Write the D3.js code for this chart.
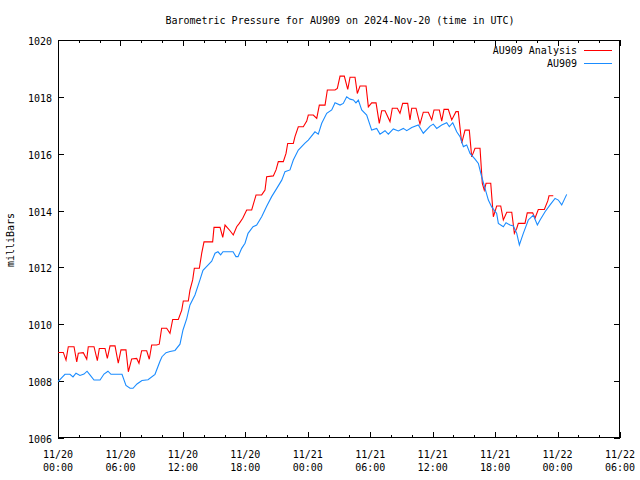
<!DOCTYPE html>
<html><head><meta charset="utf-8">
<script src="https://cdn.jsdelivr.net/npm/d3@7"></script>
<style>
body{margin:0;background:#fff;}
text{font-family:"DejaVu Sans Mono",monospace;font-size:10px;fill:#000;}
</style></head><body>
<svg id="chart" width="640" height="480"></svg>
<script>
const titleText = "Barometric Pressure for AU909 on 2024-Nov-20 (time in UTC)";
const yLabel = "milliBars";
const seriesNames = ["AU909 Analysis", "AU909"];
const seriesColors = ["#ff0000", "#1a8cff"];
const startTime = Date.UTC(2024, 10, 20, 0, 0);
const endHours = 54;
const yTicks = [1006, 1008, 1010, 1012, 1014, 1016, 1018, 1020];

// AU909 Analysis: hours since 11/20 00:00 UTC, pressure (mb)
const analysisHours = [0.03,0.51,0.77,0.99,1.54,1.80,1.95,2.43,2.76,2.91,3.46,3.78,3.97,4.52,4.74,5.00,5.48,5.79,6.05,6.53,6.76,7.08,7.56,7.78,8.04,8.52,8.77,9.00,9.48,9.73,9.96,10.44,10.76,11.02,11.56,11.89,12.04,12.52,12.68,12.94,13.10,13.58,13.81,14.03,14.86,14.99,15.57,15.83,16.05,16.53,16.84,17.17,17.42,17.75,18.13,18.61,19.03,19.57,19.89,20.05,20.69,20.95,21.17,21.65,21.91,22.07,22.61,22.77,23.09,23.57,23.90,24.05,24.53,24.86,25.11,25.66,25.88,26.62,26.84,27.10,27.51,27.84,28.06,28.54,28.76,29.02,29.60,29.82,30.14,30.56,30.87,31.10,31.42,31.90,32.12,32.60,32.86,33.12,33.60,33.82,33.99,34.40,34.78,35.10,35.58,35.91,36.13,36.64,36.87,37.09,37.50,37.83,38.24,38.46,38.79,39.11,39.52,39.75,40.07,40.55,40.77,40.96,41.13,41.58,41.83,42.15,42.54,42.79,43.12,43.60,43.85,44.08,44.23,44.87,45.09,45.61,45.83,46.15,46.73,47.06,47.18,47.59];
const analysisValues = [1009.01,1009.01,1008.74,1009.21,1009.21,1008.68,1008.98,1009.00,1008.77,1009.21,1009.21,1008.72,1009.15,1009.15,1008.80,1009.24,1009.24,1008.63,1009.10,1009.10,1008.33,1008.78,1008.80,1008.63,1009.07,1009.07,1008.77,1009.27,1009.27,1009.30,1009.86,1009.86,1009.68,1010.17,1010.17,1010.50,1010.82,1010.82,1011.20,1011.56,1011.97,1011.97,1012.50,1012.90,1012.90,1013.41,1013.41,1013.06,1013.49,1013.29,1013.14,1013.43,1013.55,1013.73,1014.02,1014.02,1014.55,1014.55,1014.72,1015.19,1015.22,1015.43,1015.72,1015.72,1016.01,1016.36,1016.36,1016.60,1016.95,1016.95,1017.15,1017.36,1017.36,1017.24,1017.71,1017.71,1018.24,1018.24,1018.30,1018.73,1018.73,1018.26,1018.69,1018.69,1018.12,1018.38,1018.38,1017.65,1017.79,1017.79,1017.07,1017.51,1017.51,1017.13,1017.60,1017.60,1017.42,1017.77,1017.77,1017.19,1017.60,1017.60,1017.04,1017.46,1017.46,1017.19,1017.54,1017.54,1017.15,1017.56,1017.56,1017.19,1017.48,1017.48,1016.37,1016.83,1016.83,1015.89,1016.19,1016.19,1014.96,1014.72,1014.96,1014.96,1013.78,1014.16,1014.16,1013.67,1013.94,1013.94,1013.20,1013.38,1013.55,1013.55,1013.92,1013.92,1013.73,1014.04,1014.04,1014.34,1014.52,1014.52];

// AU909 observed
const obsHours = [0.00,0.67,1.15,1.44,1.73,2.11,2.50,2.79,3.07,3.46,4.04,4.42,4.80,5.09,6.15,6.53,6.92,7.21,7.59,8.07,8.65,9.32,9.80,9.99,10.38,10.76,11.24,11.72,12.01,12.37,12.68,13.16,13.64,13.93,14.41,14.77,15.09,15.37,15.63,15.85,16.82,17.10,17.30,17.65,17.97,18.26,18.74,19.09,19.57,20.05,20.53,21.02,21.50,21.81,22.29,22.61,23.09,23.73,24.05,24.69,25.01,25.34,25.82,26.30,26.62,27.10,27.41,27.74,28.06,28.38,28.63,28.86,29.18,29.66,30.14,30.62,30.94,31.42,31.74,32.22,32.70,33.18,33.51,33.99,34.62,35.10,35.75,36.06,36.39,36.87,37.35,37.60,37.93,38.31,38.63,38.95,39.27,39.59,40.07,40.39,40.71,41.03,41.35,41.67,42.15,42.31,42.79,43.05,43.43,43.75,44.08,44.33,44.71,45.19,45.67,46.06,46.32,46.80,47.28,47.76,48.07,48.40,48.88];
const obsValues = [1007.98,1008.24,1008.24,1008.15,1008.28,1008.20,1008.25,1008.35,1008.22,1008.04,1008.04,1008.25,1008.35,1008.24,1008.24,1007.85,1007.75,1007.75,1007.90,1008.02,1008.05,1008.24,1008.70,1008.86,1009.00,1009.04,1009.08,1009.30,1009.80,1010.20,1010.68,1011.03,1011.56,1011.90,1012.08,1012.22,1012.50,1012.55,1012.44,1012.55,1012.55,1012.38,1012.38,1012.67,1012.85,1013.20,1013.43,1013.49,1013.78,1014.15,1014.49,1014.78,1015.07,1015.37,1015.43,1015.78,1016.13,1016.37,1016.48,1016.77,1016.69,1017.07,1017.42,1017.54,1017.79,1017.71,1017.77,1018.00,1017.92,1017.89,1017.79,1017.89,1017.54,1017.36,1016.83,1016.89,1016.69,1016.81,1016.69,1016.87,1016.80,1016.89,1016.81,1016.92,1017.01,1016.72,1016.97,1017.04,1016.89,1017.01,1017.09,1016.95,1017.09,1016.77,1016.60,1016.25,1016.31,1016.01,1015.81,1015.66,1015.19,1014.78,1014.37,1014.13,1013.90,1013.55,1013.43,1013.57,1013.49,1013.46,1013.20,1012.79,1013.20,1013.67,1013.84,1013.49,1013.67,1013.96,1014.20,1014.43,1014.37,1014.20,1014.57];

(function(){
const H = 3600000;
const mL = 58, mR = 620, mT = 40, mB = 438;
const svg = d3.select("#chart");
svg.append("rect").attr("width",640).attr("height",480).attr("fill","#fff");

const x = d3.scaleUtc().domain([new Date(startTime), new Date(startTime + endHours*H)]).range([mL, mR]);
const y = d3.scaleLinear().domain([1006, 1020]).range([mB, mT]);

const minorTicks = d3.range(0, endHours + 1, 2).map(h => new Date(startTime + h*H));
const majorTicks = d3.range(0, endHours + 1, 6).map(h => new Date(startTime + h*H));
const fmtDate = d3.utcFormat("%m/%d"), fmtTime = d3.utcFormat("%H:%M");

const g = svg.append("g").attr("shape-rendering","crispEdges");
minorTicks.forEach(t => {
  const major = (t.getUTCHours() % 6) === 0;
  const len = major ? 6 : 3;
  const xx = Math.round(x(t)) + 0.5;
  g.append("line").attr("x1",xx).attr("x2",xx).attr("y1",mB).attr("y2",mB-len).attr("stroke","#000");
  g.append("line").attr("x1",xx).attr("x2",xx).attr("y1",mT).attr("y2",mT+len).attr("stroke","#000");
});
yTicks.forEach(v => {
  const yy = Math.round(y(v)) + 0.5;
  g.append("line").attr("x1",mL).attr("x2",mL+6).attr("y1",yy).attr("y2",yy).attr("stroke","#000");
  g.append("line").attr("x1",mR).attr("x2",mR-6).attr("y1",yy).attr("y2",yy).attr("stroke","#000");
  svg.append("text").attr("x",52).attr("y",yy+4).attr("text-anchor","end").text(v);
});
majorTicks.forEach(t => {
  const xx = x(t);
  svg.append("text").attr("x",xx).attr("y",458).attr("text-anchor","middle").text(fmtDate(t));
  svg.append("text").attr("x",xx).attr("y",471).attr("text-anchor","middle").text(fmtTime(t));
});

const line = d3.line().x(d => x(d[0])).y(d => y(d[1]));
const analysisData = analysisHours.map((h,i) => [new Date(startTime + h*H), analysisValues[i]]);
const obsData = obsHours.map((h,i) => [new Date(startTime + h*H), obsValues[i]]);
svg.append("path").datum(analysisData).attr("d", line).attr("fill","none").attr("stroke",seriesColors[0]).attr("stroke-width",1.1);
svg.append("path").datum(obsData).attr("d", line).attr("fill","none").attr("stroke",seriesColors[1]).attr("stroke-width",1.1);

g.append("rect").attr("x",mL+0.5).attr("y",mT+0.5).attr("width",mR-mL-1).attr("height",mB-mT-1).attr("fill","none").attr("stroke","#000");

svg.append("text").attr("x",340).attr("y",24).attr("text-anchor","middle").text(titleText);
svg.append("text").attr("transform","translate(14,240) rotate(-90)").attr("text-anchor","middle").text(yLabel);

seriesNames.forEach((name,i) => {
  const ly = 50 + i*13;
  svg.append("text").attr("x",577).attr("y",ly+4).attr("text-anchor","end").text(name);
  g.append("line").attr("x1",584).attr("x2",612).attr("y1",ly+0.5).attr("y2",ly+0.5).attr("stroke",seriesColors[i]);
});
})();
</script>
</body></html>
